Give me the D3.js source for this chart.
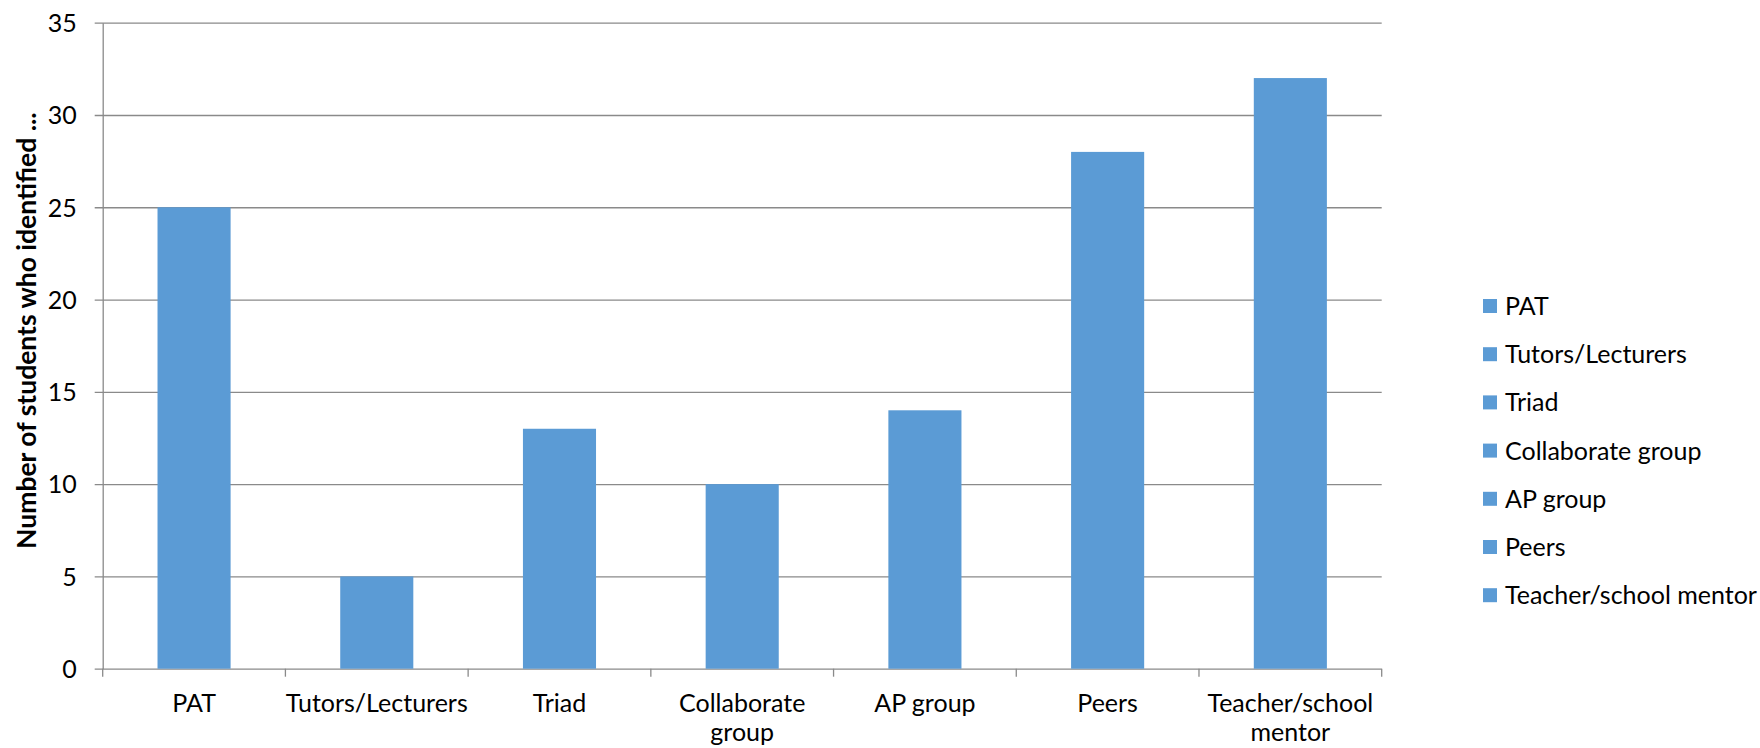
<!DOCTYPE html>
<html>
<head>
<meta charset="utf-8">
<script src="https://cdn.jsdelivr.net/npm/d3@7"></script>
<style>
  html, body { margin: 0; padding: 0; background: #fff; }
  svg { display: block; }
  text { font-family: Lato, "Open Sans", sans-serif; fill: #000; }
</style>
</head>
<body>
<svg id="chart" width="1760" height="748"></svg>
<script>
// Sources of support named by students
const categories = ["PAT", "Tutors/Lecturers", "Triad", "Collaborate group", "AP group", "Peers", "Teacher/school mentor"];
const counts = [25, 5, 13, 10, 14, 28, 32];
const yTicks = [0, 5, 10, 15, 20, 25, 30, 35];
const yTitle = "Number of students who identified ...";

const W = 1760, H = 748;
const plot = { left: 102.7, right: 1381.7, top: 22.7, bottom: 668.7 };
const barColor = "#5B9BD5";
const gridColor = "#8a8a8a";
const fontSize = 25;

const svg = d3.select("#chart");

const x = d3.scaleBand()
  .domain(categories)
  .range([plot.left, plot.right])
  .paddingInner(0.6)
  .paddingOuter(0.3);

const y = d3.scaleLinear()
  .domain([0, 35])
  .range([plot.bottom, plot.top]);

// Horizontal gridlines with short outside ticks
const yAxis = d3.axisLeft(y)
  .tickValues(yTicks)
  .tickSize(-(plot.right - plot.left))
  .tickSizeOuter(0)
  .tickPadding(0)
  .tickFormat(d3.format("d"));

const gy = svg.append("g")
  .attr("transform", `translate(${plot.left},0)`)
  .call(yAxis);
gy.select(".domain").attr("stroke", gridColor).attr("stroke-width", 1.3);
gy.selectAll(".tick line")
  .attr("x1", -8)
  .attr("stroke", gridColor)
  .attr("stroke-width", 1.3);
gy.selectAll(".tick text")
  .attr("x", -26)
  .attr("dy", "0.35em")
  .style("font-size", fontSize + "px")
  .style("font-family", "Lato, 'Open Sans', sans-serif")
  .attr("fill", "#000");

// Category boundary ticks on the base line
const boundaries = d3.range(categories.length + 1).map(i => plot.left + i * x.step());
svg.append("g").selectAll("line")
  .data(boundaries)
  .join("line")
  .attr("x1", d => d).attr("x2", d => d)
  .attr("y1", plot.bottom).attr("y2", plot.bottom + 8)
  .attr("stroke", gridColor)
  .attr("stroke-width", 1.3);

// Bars
svg.append("g").selectAll("rect")
  .data(categories)
  .join("rect")
  .attr("x", d => x(d))
  .attr("width", x.bandwidth())
  .attr("y", (d, i) => y(counts[i]))
  .attr("height", (d, i) => y(0) - y(counts[i]))
  .attr("fill", barColor);

// Category labels, wrapped to the category width
const maxW = x.step() - 2;
const labels = svg.append("g").selectAll("text")
  .data(categories)
  .join("text")
  .attr("text-anchor", "middle")
  .style("font-size", fontSize + "px")
  .attr("x", d => x(d) + x.bandwidth() / 2)
  .attr("y", 711.5);

labels.each(function(d) {
  const t = d3.select(this);
  const words = d.split(" ");
  let line = [];
  let tspan = t.append("tspan").attr("x", t.attr("x")).attr("dy", 0);
  words.forEach(w => {
    line.push(w);
    tspan.text(line.join(" "));
    if (tspan.node().getComputedTextLength() > maxW && line.length > 1) {
      line.pop();
      tspan.text(line.join(" "));
      line = [w];
      tspan = t.append("tspan").attr("x", t.attr("x")).attr("dy", 29).text(w);
    }
  });
});

// Y axis title
svg.append("text")
  .attr("transform", `translate(36,${(plot.top + plot.bottom) / 2 - 15}) rotate(-90)`)
  .attr("text-anchor", "middle")
  .style("font-size", "26.5px")
  .style("font-weight", "bold")
  .text(yTitle);

// Legend
const legend = svg.append("g").attr("transform", "translate(1483,306)");
const rows = legend.selectAll("g")
  .data(categories)
  .join("g")
  .attr("transform", (d, i) => `translate(0,${i * 48.2})`);
rows.append("rect")
  .attr("x", 0).attr("y", -7)
  .attr("width", 14).attr("height", 14)
  .attr("fill", barColor);
rows.append("text")
  .attr("x", 22)
  .attr("dy", "0.36em")
  .style("font-size", fontSize + "px")
  .text(d => d);
</script>
</body>
</html>
